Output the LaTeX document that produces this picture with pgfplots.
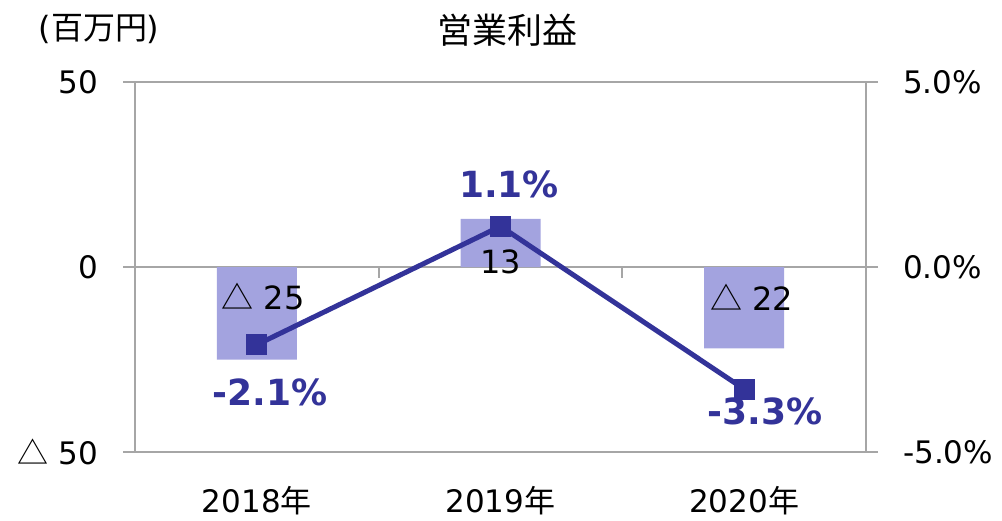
\documentclass[border=0pt]{standalone}
\usepackage{fontspec}
\setmainfont{DejaVu Sans}
\newfontfamily\jp{Noto Sans CJK JP}
\usepackage{pgfplots}
\pgfplotsset{compat=1.18}
\definecolor{barc}{RGB}{163,163,223}
\definecolor{linec}{RGB}{51,51,153}
\definecolor{axc}{RGB}{166,166,166}
\newcommand{\tri}{{\jp △}}
\begin{document}
\fontsize{31}{38}\selectfont
\begin{tikzpicture}
\useasboundingbox (0pt,0pt) rectangle (1002pt,520pt);
\begin{axis}[
  at={(135pt,68pt)}, anchor=south west,
  scale only axis, width=731pt, height=370pt,
  xmin=-0.5, xmax=2.5, ymin=-50, ymax=50,
  axis x line*=bottom, axis y line*=left,
  x axis line style={draw=none},
  y axis line style={axc, line width=2pt},
  xtick={0,1,2}, xticklabels={2018{\jp 年},2019{\jp 年},2020{\jp 年}},
  xtick style={draw=none},
  xticklabel style={anchor=north, inner sep=0pt, yshift=-22pt},
  ytick={-50,0,50}, yticklabels={\tri\ 50,0,50},
  ymajorgrids, grid style={axc, line width=2pt},
  ytick style={axc, line width=2pt},
  tick align=outside, major tick length=12pt,
  yticklabel style={inner sep=0pt, anchor=east},
  yticklabel shift=25pt,
  /pgf/number format/assume math mode=true,
]
\addplot[ybar, bar width=80pt, fill=barc, draw=none] coordinates {(0,-25) (1,13) (2,-22)};
\draw[axc, line width=2pt] (axis cs:0.5,0) -- ++(0pt,-11pt);
\draw[axc, line width=2pt] (axis cs:1.5,0) -- ++(0pt,-11pt);
\node[inner sep=0pt, font=\fontsize{32}{38}\selectfont] at (axis cs:0.025,-8.1) {\tri\ 25};
\node[inner sep=0pt, font=\fontsize{32}{38}\selectfont] at (axis cs:1.002,1.35) {13};
\node[inner sep=0pt, font=\fontsize{32}{38}\selectfont] at (axis cs:2.03,-8.1) {\tri\ 22};
\end{axis}
\begin{axis}[
  at={(135pt,68pt)}, anchor=south west,
  scale only axis, width=731pt, height=370pt,
  xmin=-0.5, xmax=2.5, ymin=-5, ymax=5,
  axis x line=none, axis y line*=right,
  y axis line style={axc, line width=2pt},
  ytick={-5,0,5}, yticklabels={-5.0\%,0.0\%,5.0\%},
  ytick style={axc, line width=2pt},
  tick align=outside, major tick length=12pt,
  yticklabel style={inner sep=0pt, anchor=west},
  yticklabel shift=25pt,
  /pgf/number format/assume math mode=true,
]
\addplot[linec, line width=5pt, mark=square*, mark size=10pt, mark options={solid, line width=0pt}] coordinates {(0,-2.1) (1,1.1) (2,-3.3)};
\node[inner sep=0pt, text=linec, font=\fontsize{36}{42}\selectfont\bfseries] at (axis cs:1.035,2.22) {1.1\%};
\node[inner sep=0pt, text=linec, font=\fontsize{36}{42}\selectfont\bfseries] at (axis cs:0.054,-3.4) {-2.1\%};
\node[inner sep=0pt, text=linec, font=\fontsize{36}{42}\selectfont\bfseries] at (axis cs:2.085,-3.89) {-3.3\%};
\end{axis}
\node[inner sep=0pt] at (507pt,490pt) {\fontsize{35}{40}\selectfont\jp 営業利益};
\node[inner sep=0pt] at (99pt,491pt) {\fontsize{32}{38}\selectfont(\jp 百万円\rm)};
\end{tikzpicture}
\end{document}
